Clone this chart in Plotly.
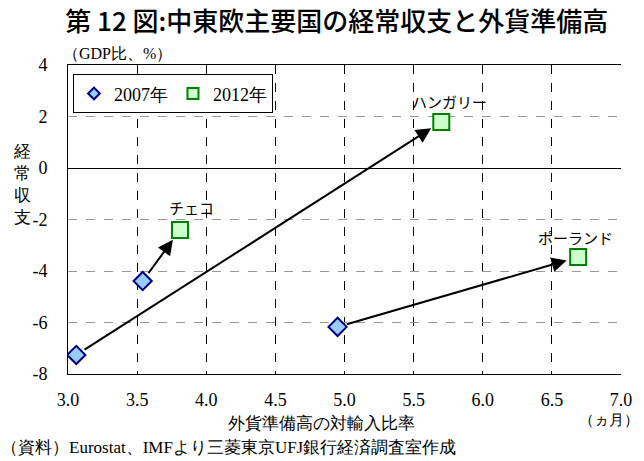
import plotly.graph_objects as go

countries = ["チェコ", "ハンガリー", "ポーランド"]
x2007 = [3.54, 3.06, 4.95]
y2007 = [-4.39, -7.26, -6.17]
x2012 = [3.81, 5.70, 6.69]
y2012 = [-2.41, 1.79, -3.46]
x_ticks = [3.0, 3.5, 4.0, 4.5, 5.0, 5.5, 6.0, 6.5, 7.0]
y_ticks = [-8, -6, -4, -2, 0, 2, 4]

serif = "Liberation Serif"
jp = "Noto Sans CJK JP"

m2007 = dict(symbol="diamond", color="#99ccff", line=dict(color="#000080", width=2))
m2012 = dict(symbol="square", color="#ccffcc", line=dict(color="#008000", width=2))

fig = go.Figure()
fig.add_trace(go.Scatter(x=x2007, y=y2007, mode="markers", name="2007年",
                         marker=dict(size=14, **m2007), showlegend=False))
fig.add_trace(go.Scatter(x=x2012, y=y2012, mode="markers", name="2012年",
                         marker=dict(size=16, **m2012), showlegend=False))
# legend entries (smaller symbols as in the reference)
fig.add_trace(go.Scatter(x=[None], y=[None], mode="markers", name="2007年",
                         marker=dict(size=9, **m2007)))
fig.add_trace(go.Scatter(x=[None], y=[None], mode="markers", name="2012年",
                         marker=dict(size=11, **m2012)))

label_dx = [12, 8, -3]
label_dy = [23, 20, 20]
for i in range(len(countries)):
    fig.add_annotation(
        x=x2012[i], y=y2012[i], ax=x2007[i], ay=y2007[i],
        xref="x", yref="y", axref="x", ayref="y",
        showarrow=True, arrowhead=2, arrowsize=1.5, arrowwidth=2,
        arrowcolor="black", standoff=12, startstandoff=8, text="",
    )
    fig.add_annotation(
        x=x2012[i], y=y2012[i], xref="x", yref="y",
        text=countries[i], showarrow=False, yshift=label_dy[i],
        xshift=label_dx[i],
        font=dict(family=jp, size=15, color="black"),
    )

fig.update_layout(
    width=644, height=461,
    margin=dict(l=68, r=21, t=65, b=87),
    paper_bgcolor="white", plot_bgcolor="white",
    title=dict(text="第 12 図:中東欧主要国の経常収支と外貨準備高",
               x=0.523, xanchor="center", y=0.952, yanchor="middle",
               font=dict(family=jp, size=26, color="black", weight=500)),
    showlegend=True,
    legend=dict(orientation="h", x=0.009, y=0.97, xanchor="left", yanchor="top",
                bordercolor="black", borderwidth=1, bgcolor="white",
                font=dict(family=serif, size=18, color="black"),
                itemwidth=30),
    font=dict(family=serif, color="black"),
)
fig.update_xaxes(
    range=[3, 7], tickvals=x_ticks, ticktext=[f"{v:.1f}" for v in x_ticks],
    showgrid=True, gridcolor="black", griddash="dash", gridwidth=1,
    showline=True, linecolor="black", linewidth=1, mirror=True,
    zeroline=False, ticks="", tickfont=dict(family=serif, size=18),
    ticklabelstandoff=9,
)
fig.update_yaxes(
    range=[-8, 4], tickvals=y_ticks, ticktext=[str(v) for v in y_ticks],
    showgrid=True, gridcolor="#999999", griddash="dash", gridwidth=1,
    showline=True, linecolor="black", linewidth=1,
    zeroline=True, zerolinecolor="black", zerolinewidth=1,
    ticks="", tickfont=dict(family=serif, size=18), ticklabelstandoff=16,
)

def note(text, x, y, xanchor="center", size=17):
    fig.add_annotation(x=x, y=y, xref="paper", yref="paper", text=text,
                       showarrow=False, font=dict(family=serif, size=size, color="black"),
                       xanchor=xanchor, yanchor="middle")

note("経<br>常<br>収<br>支", -0.083, 0.612, size=17)
note("（GDP比、%）", -0.012, 1.036, xanchor="left", size=16)
note("外貨準備高の対輸入比率", 0.458, -0.159, size=17)
note("（ヵ月）", 0.978, -0.149, size=15)
note("（資料）Eurostat、IMFより三菱東京UFJ銀行経済調査室作成", -0.125, -0.239, xanchor="left", size=17)

fig.write_html("out.html")
